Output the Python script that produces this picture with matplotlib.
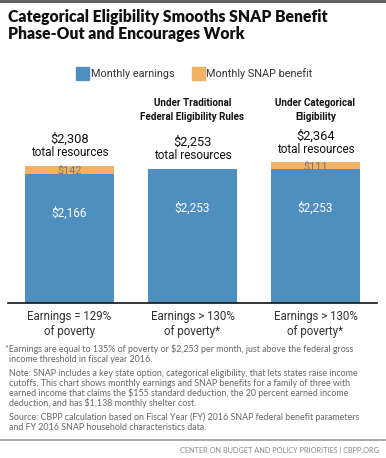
import numpy as np
import matplotlib
matplotlib.use('Agg')
import matplotlib.pyplot as plt
from matplotlib.patches import Rectangle
from matplotlib.lines import Line2D

# data
categories = ['Earnings = 129%\nof poverty', 'Earnings > 130%\nof poverty*', 'Earnings > 130%\nof poverty*']
earnings = [2166, 2253, 2253]
snap = [142, 0, 111]
headers = ['', 'Under Traditional\nFederal Eligibility Rules', 'Under Categorical\nEligibility']

BLUE = '#4f8fc0'
ORANGE = '#f2b263'
NARROW = ['Roboto', 'DejaVu Sans']
TITLE_FONT = ['Lato', 'DejaVu Sans']

W, H = 386, 458
fig = plt.figure(figsize=(W / 100, H / 100), dpi=100)

def fx(px):
    return px / W

def fy(py):
    return 1 - py / H

# top border
fig.add_artist(Line2D([0, 1], [fy(1), fy(1)], color='#555555', lw=2))

# title
fig.text(fx(8), fy(17), 'Categorical Eligibility Smooths SNAP Benefit',
         family=TITLE_FONT, weight='heavy', fontsize=11.3, va='center', color='#111111')
fig.text(fx(8), fy(34), 'Phase-Out and Encourages Work',
         family=TITLE_FONT, weight='heavy', fontsize=11.3, va='center', color='#111111')

# legend
fig.add_artist(Rectangle((fx(76), fy(80)), fx(13), 13 / H, color=BLUE))
fig.text(fx(91), fy(74), 'Monthly earnings', family=NARROW, fontsize=7.8,
         va='center', color='#333333')
fig.add_artist(Rectangle((fx(192), fy(80)), fx(13), 13 / H, color=ORANGE))
fig.text(fx(206), fy(74), 'Monthly SNAP benefit', family=NARROW, fontsize=7.8,
         va='center', color='#333333')

# bar axes
ax = fig.add_axes([fx(8), fy(303), fx(369), (303 - 100) / H])
x = np.arange(len(categories))
ax.bar(x, earnings, width=0.72, color=BLUE)
ax.bar(x, snap, width=0.72, bottom=earnings, color=ORANGE)
ax.set_xlim(-0.5, 2.5)
ax.set_ylim(0, 2253 * 203 / 134)
for s in ['top', 'right', 'left']:
    ax.spines[s].set_visible(False)
ax.spines['bottom'].set_color('#111111')
ax.spines['bottom'].set_linewidth(1.2)
ax.set_yticks([])
ax.set_xticks(x)
ax.set_xticklabels(categories, family=NARROW, fontsize=8.3, color='#333333',
                   linespacing=1.2)
ax.tick_params(axis='x', length=0, pad=5)

for i in range(len(categories)):
    total = earnings[i] + snap[i]
    ax.annotate(f'${earnings[i]:,}', (x[i], earnings[i]), xytext=(0, -28),
                textcoords='offset points', ha='center', va='center',
                family=NARROW, fontsize=8.5, color='white')
    if snap[i] > 0:
        ax.annotate(f'${snap[i]}', (x[i], earnings[i] + snap[i] / 2),
                    xytext=(0, -0.5), textcoords='offset points',
                    ha='center', va='center', family=NARROW, fontsize=7.8,
                    color='#777777')
    ax.annotate('total resources', (x[i], total), xytext=(0, 9.5),
                textcoords='offset points', ha='center', va='center',
                family=NARROW, fontsize=8.5, color='#111111')
    ax.annotate(f'${total:,}', (x[i], total), xytext=(0, 19),
                textcoords='offset points', ha='center', va='center',
                family=NARROW, fontsize=9.3, color='#111111')
    if headers[i]:
        line1, line2 = headers[i].split('\n')
        ax.text(x[i], 1 + (100 - 103) / 203, line1,
                transform=ax.get_xaxis_transform(), ha='center', va='center',
                family=NARROW, weight='bold', fontsize=7.1, color='#111111')
        ax.text(x[i], 1 + (100 - 117) / 203, line2,
                transform=ax.get_xaxis_transform(), ha='center', va='center',
                family=NARROW, weight='bold', fontsize=7.1, color='#111111')

# notes
NOTE_FONT = ['Lato', 'DejaVu Sans']
note_color = '#666666'
notes = [
    (5, 349, '*Earnings are equal to 135% of poverty or $2,253 per month, just above the federal gross'),
    (9, 359, 'income threshold in fiscal year 2016.'),
    (9, 373, 'Note: SNAP includes a key state option, categorical eligibility, that lets states raise income'),
    (9, 383, 'cutoffs. This chart shows monthly earnings and SNAP benefits for a family of three with'),
    (9, 393, 'earned income that claims the $155 standard deduction, the 20 percent earned income'),
    (9, 403, 'deduction, and has $1,138 monthly shelter cost.'),
    (9, 417, 'Source: CBPP calculation based on Fiscal Year (FY) 2016 SNAP federal benefit parameters'),
    (9, 427, 'and FY 2016 SNAP household characteristics data.'),
]
for nx_, ny_, txt in notes:
    fig.text(fx(nx_), fy(ny_), txt, family=NOTE_FONT, fontsize=6.4,
             va='center', color=note_color)

fig.add_artist(Line2D([0, 1], [fy(440), fy(440)], color='#999999', lw=1.2))
fig.text(fx(379), fy(450), 'CENTER ON BUDGET AND POLICY PRIORITIES | CBPP.ORG',
         family=NOTE_FONT, fontsize=5.3, va='center', ha='right', color='#888888')

fig.savefig('out.png', dpi=100)
